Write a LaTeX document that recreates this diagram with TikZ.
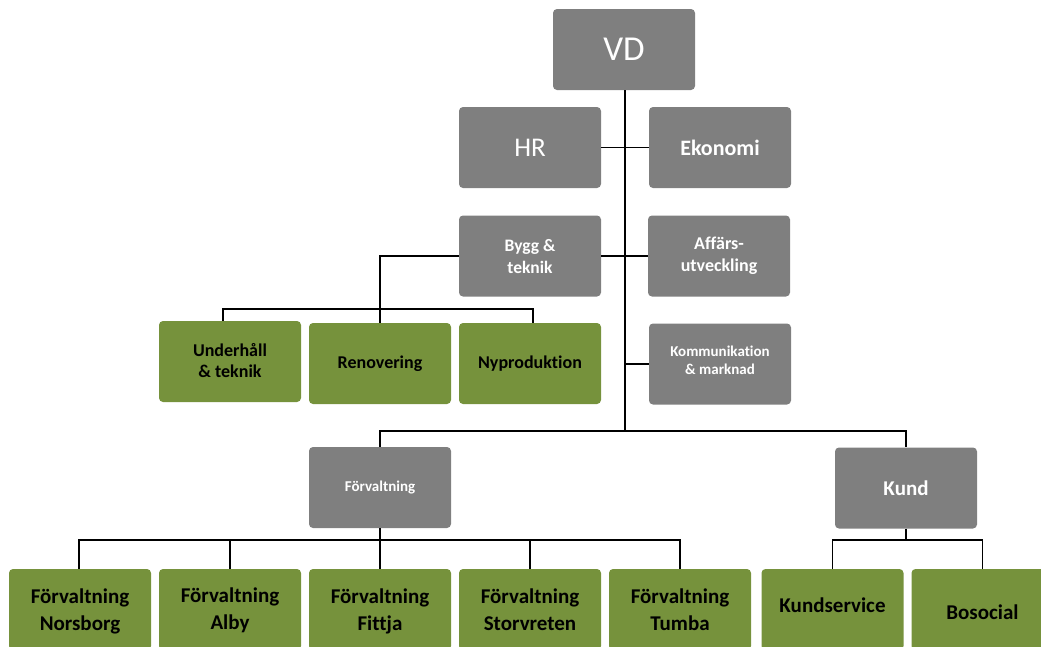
\documentclass[tikz,border=0pt]{standalone}
\usepackage{fontspec}
\setmainfont{Carlito}[Ligatures=NoCommon]
\definecolor{boxgray}{HTML}{7F7F7F}
\definecolor{boxgreen}{HTML}{76923C}
\newcommand{\fs}[2]{\fontsize{#1}{#2}\selectfont}
% move the text of a box up or down without changing its size
\newcommand{\lift}[2]{\raisebox{#1}[\height][\depth]{#2}}
\newcommand{\twolines}[2]{\begin{tabular}{@{}c@{}}#1\\#2\end{tabular}}
\tikzset{
  unit/.style={rounded corners=4pt, minimum width=142pt, minimum height=81pt,
    inner sep=0pt, align=center},
  grayunit/.style={unit, fill=boxgray, text=white},
  greenunit/.style={unit, fill=boxgreen, text=black},
  lower/.style={greenunit, font=\bfseries\fs{21}{27}},
  link/.style={draw=black, line width=1.6pt},
}
\begin{document}
\begin{tikzpicture}[x=1pt, y=-1pt]
\useasboundingbox (0,0) rectangle (1041,646);
\clip (0,0) rectangle (1041,646);

% management
\node[grayunit, font=\fs{35}{42}] (vd) at (624,49.5) {VD};
\node[grayunit, font=\fs{27}{33}] (hr) at (530,147.5) {HR};
\node[grayunit, font=\bfseries\fs{22}{27}] (eko) at (720,147.5) {Ekonomi};
\node[grayunit, font=\bfseries\fs{17.5}{22}] (bygg) at (530,256) {\lift{-2pt}{\twolines{Bygg \&}{teknik}}};
\node[grayunit, font=\bfseries\fs{18}{22}] (aff) at (719,256) {\twolines{Affärs-}{utveckling}};
\node[grayunit, font=\bfseries\fs{15}{18.5}] (kom) at (720,364) {\lift{2pt}{\twolines{Kommunikation}{\& marknad}}};

% building and technology
\node[greenunit, font=\bfseries\fs{18}{21.5}] (und) at (230,361.5) {\lift{-1pt}{\twolines{Underhåll}{\& teknik}}};
\node[greenunit, font=\bfseries\fs{18}{22}] (ren) at (380,363.5) {Renovering};
\node[greenunit, font=\bfseries\fs{18}{22}] (nyp) at (530,363.5) {Nyproduktion};

% property management and customers
\node[grayunit, font=\bfseries\fs{15}{18}] (forv) at (380,487.5) {Förvaltning};
\node[grayunit, font=\bfseries\fs{21}{25}] (kund) at (906,488) {Kund};

\node[lower] (nor) at (80,609.5) {\lift{-2pt}{\twolines{Förvaltning}{Norsborg}}};
\node[lower] (alb) at (230,609.5) {\lift{-1pt}{\twolines{Förvaltning}{Alby}}};
\node[lower] (fit) at (380,609.5) {\lift{-2pt}{\twolines{Förvaltning}{Fittja}}};
\node[lower] (sto) at (530,609.5) {\lift{-2pt}{\twolines{Förvaltning}{Storvreten}}};
\node[lower] (tum) at (680,609.5) {\lift{-2pt}{\twolines{Förvaltning}{Tumba}}};
\node[lower] (kse) at (832.5,609.5) {\lift{4pt}{Kundservice}};
\node[lower] (bos) at (982.5,609.5) {\lift{-3pt}{Bosocial}};

% junction points
\coordinate (top) at (625,431);
\coordinate (byggbar) at (380,309);
\coordinate (forvbar) at (380,540);
\coordinate (kundbar) at (906,540);

% connectors
\draw[link] (vd.south -| top) -- (top);
\draw[link] (hr.east) -- (eko.west);
\draw[link] (bygg.east) -- (aff.west);
\draw[link] (kom.west) -- (kom.west -| top);
\draw[link] (forv.north) |- (top) -| (kund.north);

\draw[link] (bygg.west) -| (ren.north);
\draw[link] ([xshift=-7pt]und.north) |- (byggbar) -| ([xshift=3pt]nyp.north);

\draw[link] (forv.south) -- (fit.north);
\draw[link] ([xshift=-1pt]nor.north) |- (forvbar) -| (tum.north);
\draw[link] (alb.north) -- (alb.north |- forvbar);
\draw[link] (sto.north) -- (sto.north |- forvbar);

\draw[link] (kund.south) -- (kundbar);
\draw[link] (kse.north) |- (kundbar) -| (bos.north);
\end{tikzpicture}
\end{document}
